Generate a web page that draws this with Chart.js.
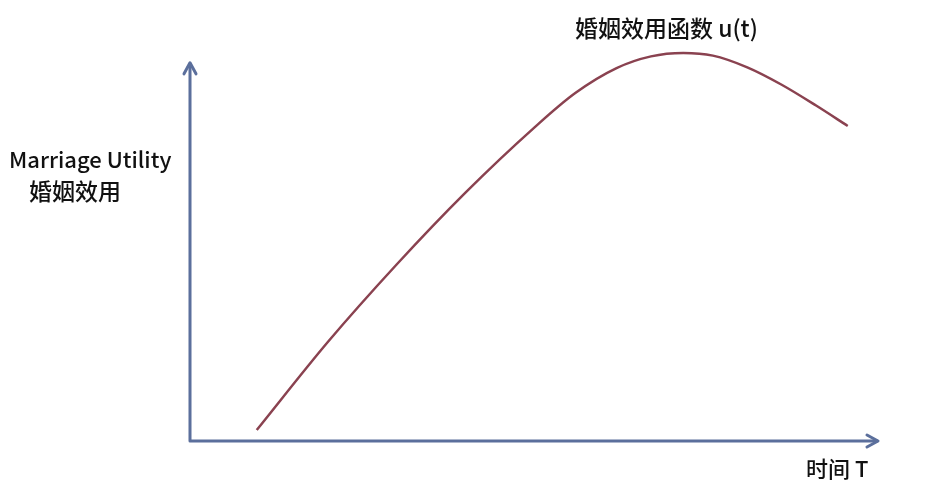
<!DOCTYPE html>
<html lang="zh">
<head>
  <meta charset="UTF-8">
  <title>婚姻效用函数</title>
  <script src="https://cdn.jsdelivr.net/npm/chart.js"></script>
  <style>
    html, body {
      margin: 0;
      padding: 0;
      background: #fff;
    }
    .wrap {
      width: 937px;
      height: 500px;
    }
  </style>
</head>
<body>

<div class="wrap">
  <canvas id="utilityChart" width="937" height="500"></canvas>
</div>

<script>
  // 读图得到的曲线数据 (时间 T, 效用 u)
  const timeValues = [9.7, 20, 30, 40, 50, 56, 62, 67, 71.7, 76, 81, 86, 91, 95.6];
  const utilityValues = [2.9, 26.1, 46.6, 65.6, 82.8, 92.0, 98.6, 101.7, 102.6, 101.9, 98.8, 94.2, 88.7, 83.3];

  const yAxisTop = 100;   // 纵轴箭头顶端
  const xAxisEnd = 100;   // 横轴箭头末端

  const axisColor = '#5b6f9c';
  const curveColor = '#8a4250';
  const textFont = '"Noto Sans CJK SC", "Noto Sans", sans-serif';

  function arrowHead(ctx, x, y, dir) {
    ctx.beginPath();
    if (dir === 'up') {
      ctx.moveTo(x - 6, y + 11);
      ctx.lineTo(x, y);
      ctx.lineTo(x + 6, y + 11);
    } else {
      ctx.moveTo(x - 11, y - 6);
      ctx.lineTo(x, y);
      ctx.lineTo(x - 11, y + 6);
    }
    ctx.stroke();
  }

  // 画坐标轴箭头和文字标签
  const axesPlugin = {
    id: 'axesArrows',
    beforeDatasetsDraw: (chart) => {
      const { ctx, scales: { x, y } } = chart;
      const x0 = x.getPixelForValue(0);
      const y0 = y.getPixelForValue(0);
      const yTop = y.getPixelForValue(yAxisTop);
      const xEnd = x.getPixelForValue(xAxisEnd);
      ctx.save();
      ctx.strokeStyle = axisColor;
      ctx.lineWidth = 3;
      ctx.lineCap = 'round';
      ctx.lineJoin = 'round';
      ctx.beginPath();
      ctx.moveTo(x0, y0);
      ctx.lineTo(x0, yTop + 1);
      ctx.moveTo(x0, y0);
      ctx.lineTo(xEnd - 1, y0);
      ctx.stroke();
      arrowHead(ctx, x0, yTop, 'up');
      arrowHead(ctx, xEnd, y0, 'right');
      ctx.restore();
    },
    afterDraw: (chart) => {
      const { ctx, scales: { x, y } } = chart;
      const x0 = x.getPixelForValue(0);
      const y0 = y.getPixelForValue(0);
      ctx.save();
      ctx.fillStyle = '#111';
      ctx.textBaseline = 'alphabetic';
      ctx.textAlign = 'left';
      ctx.font = '500 22px ' + textFont;
      ctx.fillText('Marriage Utility', x0 - 181, 168);
      ctx.font = '500 23px ' + textFont;
      ctx.fillText('婚姻效用', x0 - 161, 200);
      ctx.fillText('婚姻效用函数 u(t)', 575, 37);
      ctx.font = '500 22px ' + textFont;
      ctx.fillText('时间 T', 806, y0 + 36);
      ctx.restore();
    }
  };

  document.addEventListener('DOMContentLoaded', () => {
    const ctx = document.getElementById('utilityChart').getContext('2d');
    new Chart(ctx, {
      type: 'line',
      data: {
        datasets: [{
          label: '婚姻效用函数 u(t)',
          data: timeValues.map((t, i) => ({ x: t, y: utilityValues[i] })),
          borderColor: curveColor,
          borderWidth: 2.5,
          pointRadius: 0,
          cubicInterpolationMode: 'monotone',
          fill: false
        }]
      },
      options: {
        responsive: false,
        animation: false,
        layout: {
          padding: { left: 190, right: 59, top: 25, bottom: 59 }
        },
        scales: {
          x: { type: 'linear', min: 0, max: 100, display: false },
          y: { type: 'linear', min: 0, max: 110, display: false }
        },
        plugins: {
          legend: { display: false },
          tooltip: { enabled: false }
        }
      },
      plugins: [axesPlugin]
    });
  });
</script>

</body>
</html>
